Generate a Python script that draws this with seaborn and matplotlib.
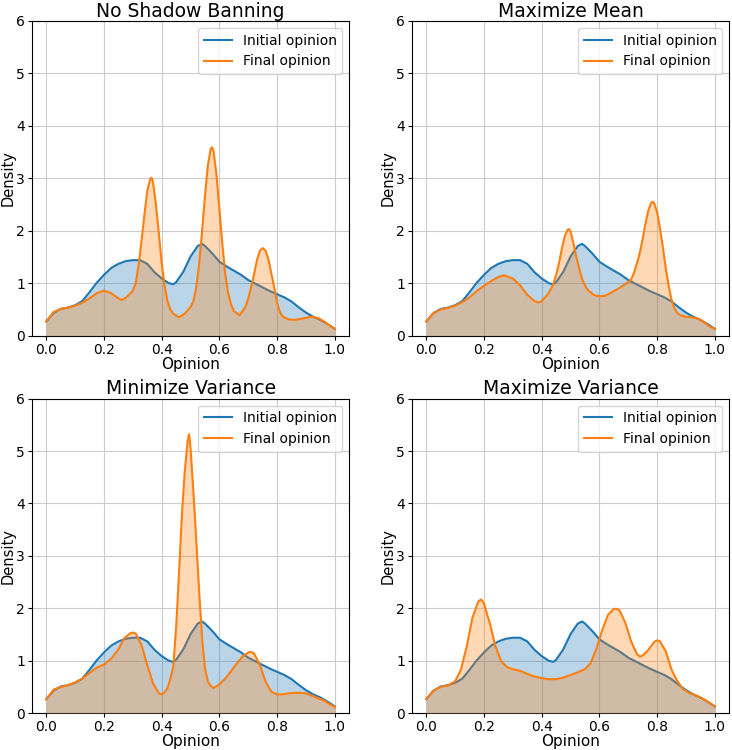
import matplotlib
matplotlib.use("Agg")
import matplotlib.pyplot as plt
import pandas as pd
import seaborn as sns

# initial opinion density (same in every panel)
init_x = [0.0, 0.025, 0.05, 0.075, 0.1, 0.125, 0.15, 0.175, 0.2, 0.225, 0.25, 0.275,
          0.3, 0.325, 0.35, 0.375, 0.4, 0.425, 0.44, 0.45, 0.475, 0.5, 0.525, 0.54,
          0.55, 0.575, 0.6, 0.625, 0.65, 0.675, 0.7, 0.725, 0.75, 0.775, 0.8, 0.825,
          0.85, 0.875, 0.9, 0.925, 0.95, 0.975, 1.0]
init_y = [0.27, 0.43, 0.51, 0.535, 0.58, 0.66, 0.83, 1.01, 1.16, 1.29, 1.37, 1.42,
          1.44, 1.44, 1.37, 1.21, 1.09, 1.0, 0.98, 1.02, 1.22, 1.51, 1.71, 1.75,
          1.71, 1.57, 1.41, 1.32, 1.24, 1.16, 1.06, 0.99, 0.92, 0.85, 0.79, 0.73,
          0.65, 0.54, 0.44, 0.36, 0.30, 0.22, 0.13]

# final opinion densities
nsb_x = [0.0, 0.025, 0.05, 0.075, 0.1, 0.125, 0.15, 0.175, 0.2, 0.225, 0.25, 0.26,
         0.275, 0.29, 0.3, 0.31, 0.32, 0.33, 0.34, 0.35, 0.36, 0.365, 0.37, 0.38,
         0.39, 0.4, 0.41, 0.42, 0.43, 0.44, 0.46, 0.48, 0.5, 0.51, 0.52, 0.53, 0.54,
         0.55, 0.56, 0.57, 0.575, 0.58, 0.59, 0.6, 0.61, 0.62, 0.63, 0.64, 0.65,
         0.67, 0.69, 0.7, 0.71, 0.72, 0.73, 0.74, 0.75, 0.76, 0.77, 0.78, 0.79, 0.8,
         0.81, 0.82, 0.84, 0.86, 0.88, 0.9, 0.92, 0.94, 0.96, 0.98, 1.0]
nsb_y = [0.27, 0.45, 0.51, 0.535, 0.57, 0.63, 0.71, 0.81, 0.86, 0.81, 0.71, 0.68,
         0.72, 0.80, 0.86, 1.0, 1.35, 1.8, 2.3, 2.76, 2.99, 3.01, 2.92, 2.5,
         1.95, 1.38, 0.95, 0.66, 0.5, 0.42, 0.35, 0.42, 0.55, 0.66, 0.93, 1.38, 2.0,
         2.67, 3.25, 3.57, 3.59, 3.5, 3.06, 2.4, 1.76, 1.18, 0.82, 0.6, 0.47,
         0.39, 0.55, 0.71, 0.93, 1.17, 1.44, 1.62, 1.67, 1.62, 1.45, 1.18, 0.92, 0.62,
         0.45, 0.36, 0.31, 0.30, 0.32, 0.34, 0.36, 0.34, 0.28, 0.20, 0.13]

mean_x = [0.0, 0.025, 0.05, 0.075, 0.1, 0.125, 0.15, 0.175, 0.2, 0.225, 0.25, 0.27,
          0.3, 0.325, 0.35, 0.375, 0.39, 0.4, 0.42, 0.43, 0.44, 0.45, 0.46, 0.47,
          0.48, 0.49, 0.495, 0.5, 0.51, 0.52, 0.53, 0.54, 0.55, 0.56, 0.58, 0.6, 0.62,
          0.64, 0.66, 0.68, 0.7, 0.71, 0.72, 0.73, 0.74, 0.75, 0.76, 0.77, 0.78, 0.785,
          0.79, 0.8, 0.81, 0.82, 0.83, 0.84, 0.85, 0.86, 0.87, 0.88, 0.9, 0.92, 0.94,
          0.96, 0.98, 1.0]
mean_y = [0.27, 0.43, 0.50, 0.53, 0.57, 0.64, 0.73, 0.85, 0.95, 1.04, 1.12, 1.15,
          1.09, 0.96, 0.78, 0.66, 0.63, 0.66, 0.78, 0.87, 0.98, 1.16, 1.38, 1.66,
          1.90, 2.02, 2.03, 1.99, 1.76, 1.50, 1.28, 1.08, 0.96, 0.87, 0.78, 0.75, 0.76,
          0.82, 0.88, 0.95, 1.02, 1.07, 1.20, 1.38, 1.58, 1.85, 2.15, 2.40, 2.54, 2.55,
          2.52, 2.35, 2.04, 1.68, 1.28, 0.95, 0.68, 0.52, 0.43, 0.39, 0.36, 0.35, 0.33,
          0.27, 0.18, 0.13]

minvar_x = [0.0, 0.025, 0.05, 0.075, 0.1, 0.125, 0.15, 0.175, 0.2, 0.225, 0.25, 0.27,
            0.29, 0.3, 0.31, 0.33, 0.35, 0.37, 0.39, 0.4, 0.41, 0.42, 0.43, 0.44, 0.45,
            0.46, 0.47, 0.48, 0.49, 0.495, 0.5, 0.51, 0.52, 0.53, 0.54, 0.55, 0.56,
            0.57, 0.58, 0.6, 0.62, 0.64, 0.66, 0.68, 0.7, 0.71, 0.72, 0.74, 0.76, 0.78,
            0.8, 0.82, 0.84, 0.86, 0.88, 0.9, 0.92, 0.94, 0.96, 0.98, 1.0]
minvar_y = [0.26, 0.45, 0.50, 0.535, 0.59, 0.66, 0.77, 0.87, 0.93, 1.04, 1.22, 1.43,
            1.52, 1.54, 1.52, 1.30, 0.92, 0.57, 0.38, 0.36, 0.40, 0.48, 0.66, 0.88, 1.64,
            2.67, 3.78, 4.62, 5.2, 5.32, 5.05, 4.2, 3.27, 2.3, 1.42, 0.85, 0.6,
            0.52, 0.48, 0.55, 0.66, 0.80, 0.95, 1.08, 1.16, 1.17, 1.14, 0.92, 0.60, 0.41,
            0.36, 0.36, 0.38, 0.39, 0.39, 0.38, 0.34, 0.29, 0.25, 0.18, 0.12]

maxvar_x = [0.0, 0.025, 0.05, 0.075, 0.1, 0.12, 0.14, 0.16, 0.18, 0.19, 0.2, 0.22,
            0.24, 0.26, 0.28, 0.3, 0.325, 0.35, 0.375, 0.4, 0.425, 0.45, 0.475, 0.5,
            0.525, 0.55, 0.57, 0.59, 0.61, 0.63, 0.65, 0.66, 0.67, 0.69, 0.71, 0.73,
            0.74, 0.75, 0.77, 0.79, 0.8, 0.81, 0.83, 0.85, 0.87, 0.89, 0.91, 0.93, 0.95,
            0.97, 1.0]
maxvar_y = [0.27, 0.43, 0.50, 0.53, 0.61, 0.83, 1.27, 1.82, 2.13, 2.17, 2.09, 1.72,
            1.27, 0.99, 0.88, 0.84, 0.81, 0.75, 0.70, 0.67, 0.65, 0.65, 0.68, 0.73,
            0.78, 0.84, 0.96, 1.24, 1.59, 1.88, 1.99, 1.99, 1.96, 1.72, 1.37, 1.13,
            1.08, 1.10, 1.21, 1.36, 1.39, 1.37, 1.18, 0.83, 0.61, 0.46, 0.39, 0.35, 0.30,
            0.24, 0.13]

titles = ["No Shadow Banning", "Maximize Mean", "Minimize Variance", "Maximize Variance"]
finals = [(nsb_x, nsb_y), (mean_x, mean_y), (minvar_x, minvar_y), (maxvar_x, maxvar_y)]

blue = "#1f77b4"
orange = "#ff7f0e"

fig, axes = plt.subplots(2, 2, figsize=(7.32, 7.5), dpi=100)
fig.subplots_adjust(left=0.0435, right=0.9963, bottom=0.049, top=0.972,
                    wspace=0.197, hspace=0.2)

init_df = pd.DataFrame({"Opinion": init_x, "Density": init_y})

for ax, title, (fx, fy) in zip(axes.flat, titles, finals):
    final_df = pd.DataFrame({"Opinion": fx, "Density": fy})
    # initial opinion
    sns.lineplot(data=init_df, x="Opinion", y="Density", color=blue, lw=1.5,
                 label="Initial opinion", ax=ax, zorder=3)
    ax.fill_between(init_df["Opinion"], init_df["Density"], color=blue, alpha=0.3,
                    lw=0, zorder=3)
    # final opinion
    sns.lineplot(data=final_df, x="Opinion", y="Density", color=orange, lw=1.5,
                 label="Final opinion", ax=ax, zorder=4)
    ax.fill_between(final_df["Opinion"], final_df["Density"], color=orange, alpha=0.3,
                    lw=0, zorder=4)
    ax.set_ylim(0, 6)
    ax.set_xticks([0.0, 0.2, 0.4, 0.6, 0.8, 1.0])
    ax.grid(True, color="#cccccc", lw=0.8)
    ax.set_axisbelow(True)
    ax.set_title(title, fontsize=13.5, pad=3)
    ax.set_xlabel("Opinion", fontsize=11, labelpad=0)
    ax.set_ylabel("Density", fontsize=10.5, labelpad=0.5)
    ax.tick_params(labelsize=10, length=3, pad=2)
    ax.legend(loc="upper right", fontsize=10)

fig.savefig("out.png", dpi=100)
